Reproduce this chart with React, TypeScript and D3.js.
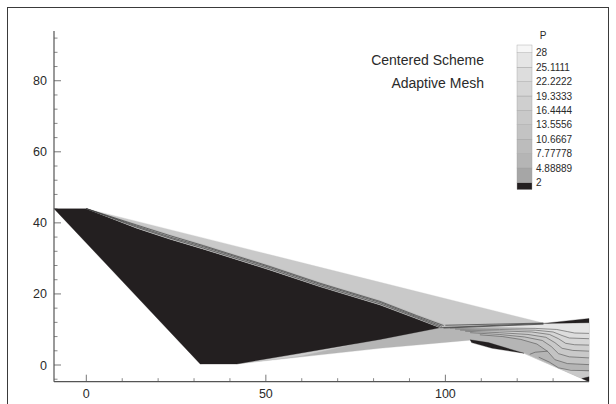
import React from "react";
import * as d3 from "d3";

type Pt = [number, number];

const W = 616;
const H = 404;

// contour levels and legend
const levels = [2, 4.88889, 7.77778, 10.6667, 13.5556, 16.4444, 19.3333, 22.2222, 25.1111, 28];
const levelLabels = ["2", "4.88889", "7.77778", "10.6667", "13.5556", "16.4444", "19.3333", "22.2222", "25.1111", "28"];
const bandGrays = ["#231f20", "#a6a6a6", "#b5b5b5", "#bcbcbc", "#c3c3c3", "#c9c9c9", "#cfcfcf", "#d6d6d6", "#dddddd", "#e5e5e5", "#f6f6f6"];

// axis ticks
const xMajor = [0, 50, 100];
const xMinor = [10, 20, 30, 40, 60, 70, 80, 90, 110, 120, 130];
const yMajor = [0, 20, 40, 60, 80];
const yMinor = [-4, 4, 8, 12, 16, 24, 28, 32, 36, 44, 48, 52, 56, 64, 68, 72, 76, 84, 88, 92];

// regions (data coordinates) with pressure values
const lowerRegion: Pt[] = [[31.7, 0.3], [41.9, 0.3], [81.8, 4.7], [106.9, 7.0], [121.9, 3.3], [140, -4.7], [140, 11.9], [127.3, 11.4], [98.5, 10.5]];
const lowerRegionP = 6.5;
const lowerLightWedge: Pt[] = [[41.9, 0.3], [59.5, 3.3], [75, 6.0], [59.5, 2.5]];
const lowerLightWedgeP = 17;
const upperWedge: Pt[] = [[0, 44], [127.3, 11.8], [100, 11.3], [98.5, 10.5]];
const upperWedgeP = 14.5;
const blackRegion: Pt[] = [[-9, 44], [0, 44], [14, 38.5], [23.3, 35.4], [32.6, 32.6], [51.2, 26.7], [65.1, 22.0], [81.8, 16.9], [92, 13.0], [98.5, 10.5], [81.8, 7.2], [59.5, 3.3], [41.9, 0.3], [31.7, 0.3]];
const blackUpper: Pt[] = [[0, 44], [14, 38.5], [23.3, 35.4], [32.6, 32.6], [51.2, 26.7], [65.1, 22.0], [81.8, 16.9], [92, 13.0], [98.5, 10.5]];
const shearTop: Pt[] = [[0, 44], [14, 39.7], [23.3, 36.7], [32.6, 33.9], [51.2, 28.0], [65.1, 23.3], [81.8, 18.2], [92, 14.2], [100, 11.3]];
const shearP = 9;
const shearLine1: Pt[] = [[0, 44], [14, 38.8], [23.3, 35.7], [32.6, 32.9], [51.2, 27.0], [65.1, 22.3], [81.8, 17.2], [92, 13.3], [98.5, 10.7]];
const shearLine2: Pt[] = [[0, 44], [14, 39.1], [23.3, 36.0], [32.6, 33.3], [51.2, 27.4], [65.1, 22.7], [81.8, 17.6], [92, 13.6], [99, 10.9]];
const shearLine3: Pt[] = [[0, 44], [14, 39.4], [23.3, 36.4], [32.6, 33.6], [51.2, 27.7], [65.1, 23.0], [81.8, 17.9], [92, 13.9], [99.5, 11.1]];
const stemBand: Pt[] = [[98.5, 10.5], [100, 11.3], [127.3, 11.8], [127.3, 11.4]];
const stemP = 9;
const stemLine1: Pt[] = [[98.5, 10.5], [127.3, 11.7]];
const stemLine2: Pt[] = [[99.5, 10.4], [127.3, 11.5]];
const stemLine3: Pt[] = [[100, 11.2], [127.3, 11.8]];
const fanTop: Pt[] = [[98.5, 10.5], [127.3, 11.4], [140, 11.9]];
const fanLine1: Pt[] = [[101.3, 10.4], [115, 10.4], [125, 10.3], [131, 10.0], [134, 9.4], [136, 9.0], [140, 8.9]];
const fanLine2: Pt[] = [[102.7, 10.1], [115, 10.0], [125, 9.8], [130, 9.3], [132.5, 8.3], [134.5, 7.6], [140, 7.4]];
const fanLine3: Pt[] = [[104.1, 9.8], [115, 9.6], [124, 9.3], [129, 8.6], [131.5, 7.4], [133.5, 6.1], [136, 5.7], [140, 5.6]];
const fanLine4: Pt[] = [[105.5, 9.5], [115, 9.1], [123, 8.6], [128, 7.8], [130.5, 6.3], [132.5, 4.7], [135.5, 4.1], [140, 3.9]];
const fanLine5: Pt[] = [[106.9, 9.1], [115, 8.6], [122, 7.9], [127, 6.9], [129.5, 5.2], [131.5, 3.2], [134.5, 2.3], [140, 2.0]];
const fanLine6: Pt[] = [[109.6, 8.5], [116, 8.0], [121, 7.2], [125.5, 5.9], [128.5, 3.8], [130.5, 1.5], [134, 0.4], [140, 0.1]];
const fanLevels = [27, 23, 20, 17, 14, 11];
const extraLine1: Pt[] = [[123.5, 3.0], [125, 3.6], [128.5, 3.9]];
const extraLine2: Pt[] = [[126, 2.2], [129, 0.8], [131.5, -0.8], [135, -1.5], [140, -1.6]];
const lowerSliver: Pt[] = [[106.9, 7.1], [112, 6.3], [121.9, 3.3], [113, 4.7], [107.3, 6.3]];
const topRightWedge: Pt[] = [[127.3, 11.7], [140, 13.1], [140, 11.9]];
const cornerLight: Pt[] = [[121.9, 3.3], [138, -3.8], [140, -3.3], [140, -1.9], [131.5, -0.9]];
const cornerLightP = 14;
const cornerBlack: Pt[] = [[138, -3.8], [140, -4.7], [140, -3.3]];
const blackP = 1.5;

const font = "'Liberation Sans', Arial, Helvetica, sans-serif";

export default function App() {
  const x = d3.scaleLinear().domain([-9, 140]).range([54, 589]);
  const y = d3.scaleLinear().domain([-4.7, 94]).range([381.7, 31]);
  const color = d3.scaleThreshold<number, string>().domain(levels).range(bandGrays);
  const line = d3.line<Pt>().x((d) => x(d[0])).y((d) => y(d[1]));
  const area = (pts: Pt[]) => line(pts) + "Z";

  const fanLines = [fanLine1, fanLine2, fanLine3, fanLine4, fanLine5, fanLine6];
  const fanPolys = fanLines.map((ln, i) => {
    const top = fanTop.filter((p) => p[0] > ln[0][0]).slice().reverse();
    return { pts: [...ln, ...top] as Pt[], p: fanLevels[i] };
  });

  const shearBand: Pt[] = [...shearTop, ...blackUpper.slice().reverse()];

  const regions: { pts: Pt[]; p: number }[] = [
    { pts: lowerRegion, p: lowerRegionP },
    { pts: upperWedge, p: upperWedgeP },
    ...fanPolys.slice().reverse(),
    { pts: lowerLightWedge, p: lowerLightWedgeP },
    { pts: blackRegion, p: blackP },
    { pts: shearBand, p: shearP },
    { pts: stemBand, p: stemP },
    { pts: lowerSliver, p: blackP },
    { pts: topRightWedge, p: blackP },
    { pts: cornerLight, p: cornerLightP },
    { pts: cornerBlack, p: blackP },
  ];

  const shearLines = [shearLine1, shearLine2, shearLine3, stemLine1, stemLine2, stemLine3];
  const thinLines = [...fanLines, extraLine1, extraLine2];

  const legendY = d3.scaleLinear().domain([levels[0], levels[levels.length - 1]]).range([182.4, 52.8]);
  const legTop = 45;
  const legBottom = 189.6;
  const legX = 517;
  const legW = 15;
  const bands = bandGrays.map((c, j) => {
    const top = j === levels.length ? legTop : legendY(levels[j]);
    const bottom = j === 0 ? legBottom : legendY(levels[j - 1]);
    return { c, top, bottom };
  });

  const axisColor = "#555";
  const textColor = "#2a2a2a";

  return (
    <svg width={W} height={H} style={{ position: "absolute", left: 0, top: 0, background: "#fff" }}>
      <rect x={0} y={0} width={W} height={H} fill="#fff" />
      <rect x={7.5} y={7.5} width={601} height={420} fill="none" stroke="#3a3a3a" strokeWidth={1} />

      {regions.map((r, i) => (
        <path key={"r" + i} d={area(r.pts)} fill={color(r.p)} stroke={color(r.p)} strokeWidth={0.3} />
      ))}
      {shearLines.map((ln, i) => (
        <path key={"s" + i} d={line(ln) || ""} fill="none" stroke="#3c3c3c" strokeWidth={0.7} />
      ))}
      {thinLines.map((ln, i) => (
        <path key={"l" + i} d={line(ln) || ""} fill="none" stroke="#505050" strokeWidth={0.6} />
      ))}

      {/* axes */}
      <line x1={x(-9)} x2={x(-9)} y1={y(94)} y2={y(-4.7)} stroke={axisColor} strokeWidth={1.2} />
      <line x1={x(-9)} x2={x(140)} y1={y(-4.7)} y2={y(-4.7)} stroke={axisColor} strokeWidth={1.2} />
      {yMajor.map((v) => (
        <g key={"ym" + v}>
          <line x1={x(-9)} x2={x(-9) + 7} y1={y(v)} y2={y(v)} stroke={axisColor} strokeWidth={0.8} />
          <text x={47} y={y(v)} dy="0.36em" textAnchor="end" fontFamily={font} fontSize={12.5} fill={textColor}>
            {v}
          </text>
        </g>
      ))}
      {yMinor.map((v) => (
        <line key={"yn" + v} x1={x(-9)} x2={x(-9) + 3.5} y1={y(v)} y2={y(v)} stroke={axisColor} strokeWidth={0.7} />
      ))}
      {xMajor.map((v) => (
        <g key={"xm" + v}>
          <line x1={x(v)} x2={x(v)} y1={y(-4.7)} y2={y(-4.7) - 7} stroke={axisColor} strokeWidth={0.8} />
          <text x={x(v)} y={398} textAnchor="middle" fontFamily={font} fontSize={12.5} fill={textColor}>
            {v}
          </text>
        </g>
      ))}
      {xMinor.map((v) => (
        <line key={"xn" + v} x1={x(v)} x2={x(v)} y1={y(-4.7)} y2={y(-4.7) - 3.5} stroke={axisColor} strokeWidth={0.7} />
      ))}

      {/* annotations */}
      <text x={484} y={65} textAnchor="end" fontFamily={font} fontSize={14} fill={textColor}>
        Centered Scheme
      </text>
      <text x={484} y={88} textAnchor="end" fontFamily={font} fontSize={14} fill={textColor}>
        Adaptive Mesh
      </text>

      {/* legend */}
      <text x={543} y={35} dy="0.36em" textAnchor="middle" fontFamily={font} fontSize={10} fill={textColor}>
        P
      </text>
      {bands.map((b, j) => (
        <rect key={"b" + j} x={legX} y={b.top} width={legW} height={b.bottom - b.top} fill={b.c} stroke="#a0a0a0" strokeWidth={0.4} />
      ))}
      {levels.map((lv, i) => (
        <text key={"lt" + i} x={536} y={legendY(lv)} dy="0.36em" fontFamily={font} fontSize={10} fill={textColor}>
          {levelLabels[i]}
        </text>
      ))}
    </svg>
  );
}
